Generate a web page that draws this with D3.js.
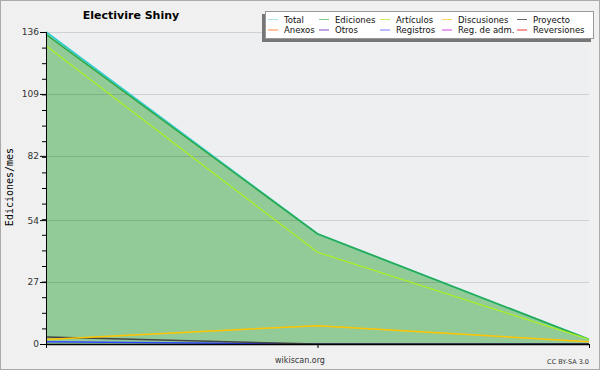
<!DOCTYPE html>
<html>
<head>
<meta charset="utf-8">
<script src="https://cdn.jsdelivr.net/npm/d3@7"></script>
<style>
  body { margin: 0; background: #f0f0f0; }
  svg { display: block; }
</style>
</head>
<body>
<div id="chart"></div>
<script>
const months = ["m1", "m2", "m3"];
const total = [136, 48, 2];
const ediciones = [135, 48, 2];
const articulos = [130, 40, 2];
const discusiones = [2, 8, 1];
const proyecto = [3, 0, 0];
const registros = [1, 0, 0];
const yTicks = [0, 27, 54, 82, 109, 136];

const legendItems = [
  { name: "Total", color: "#a8e4e4" },
  { name: "Ediciones", color: "#7cc98a" },
  { name: "Artículos", color: "#c8ee60" },
  { name: "Discusiones", color: "#ffd460" },
  { name: "Proyecto", color: "#666666" },
  { name: "Anexos", color: "#ff8844" },
  { name: "Otros", color: "#8844cc" },
  { name: "Registros", color: "#7777ff" },
  { name: "Reg. de adm.", color: "#cc44dd" },
  { name: "Reversiones", color: "#ee3333" }
];

const width = 600, height = 370;
const margin = { top: 32, left: 46, bottom: 26, right: 11 };
const iwidth = width - margin.left - margin.right;
const iheight = height - margin.top - margin.bottom;

const svg = d3.select("#chart").append("svg")
  .attr("width", width).attr("height", height);

svg.append("rect").attr("x", 0.5).attr("y", 0.5)
  .attr("width", width - 1).attr("height", height - 1)
  .attr("fill", "#f0f0f0").attr("stroke", "#aaaaaa");

const g = svg.append("g").attr("transform", `translate(${margin.left},${margin.top})`);

const x = d3.scalePoint().domain(months).range([0, iwidth]);
const y = d3.scaleLinear().domain([0, 136]).range([iheight, 0]);

g.append("rect").attr("width", iwidth).attr("height", iheight).attr("fill", "#eeeff1");

const area = d3.area()
  .x((d, i) => x(months[i]))
  .y0(iheight)
  .y1(d => y(d));
g.append("path").datum(ediciones).attr("d", area).attr("fill", "#93cb98");

// gridlines
g.append("g").selectAll("line").data(yTicks.slice(1)).enter().append("line")
  .attr("x1", 0).attr("x2", iwidth)
  .attr("y1", d => Math.round(y(d)) + 0.5).attr("y2", d => Math.round(y(d)) + 0.5)
  .attr("stroke", "#000").attr("stroke-opacity", 0.13);

const line = d3.line().x((d, i) => x(months[i])).y(d => y(d));
const series = [
  { data: registros, color: "#3344ff", w: 1.5 },
  { data: proyecto, color: "#444444", w: 1.5 },
  { data: discusiones, color: "#ffc400", w: 1.5 },
  { data: total, color: "#33cccc", w: 2 },
  { data: ediciones, color: "#2ea843", w: 1.5 },
  { data: articulos, color: "#aaf020", w: 1.2 }
];
series.forEach(s => {
  g.append("path").datum(s.data).attr("d", line)
    .attr("fill", "none").attr("stroke", s.color).attr("stroke-width", s.w);
});

// y axis
const yAxis = g.append("g")
  .call(d3.axisLeft(y).tickValues(d3.range(0, 137, 6.8)).tickSize(4).tickFormat(""));
yAxis.select(".domain").remove();
const yMajor = g.append("g")
  .call(d3.axisLeft(y).tickValues(yTicks).tickSize(6).tickPadding(1));
yMajor.selectAll("text").style("font-family", "DejaVu Sans").style("font-size", "9px").attr("fill", "#333");
yMajor.select(".domain").attr("d", `M0.5,0V${iheight}`).attr("stroke", "#000");

// x axis
const xAxis = g.append("g").attr("transform", `translate(0,${iheight})`)
  .call(d3.axisBottom(x).tickSize(4).tickFormat(""));
xAxis.select(".domain").attr("d", `M0,0.5H${iwidth}`).attr("stroke", "#000").attr("stroke-width", 1.5);

// titles
svg.append("text").attr("x", 131).attr("y", 19).attr("text-anchor", "middle")
  .style("font-family", "DejaVu Sans").style("font-weight", "bold").style("font-size", "11px")
  .text("Electivire Shiny");

svg.append("text").attr("transform", "translate(13,187) rotate(-90)").attr("text-anchor", "middle")
  .style("font-family", "DejaVu Sans Mono").style("font-size", "10px")
  .text("Ediciones/mes");

svg.append("text").attr("x", 300).attr("y", 363).attr("text-anchor", "middle")
  .style("font-family", "DejaVu Sans").style("font-size", "8px").attr("fill", "#333")
  .text("wikiscan.org");

svg.append("text").attr("x", 589).attr("y", 364).attr("text-anchor", "end")
  .style("font-family", "DejaVu Sans").style("font-size", "6.5px").attr("fill", "#333")
  .text("CC BY-SA 3.0");

// legend
const lg = svg.append("g");
lg.append("rect").attr("x", 262).attr("y", 14).attr("width", 329).attr("height", 28).attr("fill", "#777");
lg.append("rect").attr("x", 265.5).attr("y", 11.5).attr("width", 328).attr("height", 27)
  .attr("fill", "#fff").attr("stroke", "#999");
const colX = [268, 319, 380, 442, 517];
legendItems.forEach((d, i) => {
  const cx = colX[i % 5], cy = i < 5 ? 19 : 29.5;
  lg.append("line").attr("x1", cx).attr("x2", cx + 10).attr("y1", cy + 0.5).attr("y2", cy + 0.5)
    .attr("stroke", d.color);
  lg.append("text").attr("x", cx + 16).attr("y", cy + 3.5)
    .style("font-family", "DejaVu Sans").style("font-size", "8.5px").attr("fill", "#111")
    .text(d.name);
});
</script>
</body>
</html>
